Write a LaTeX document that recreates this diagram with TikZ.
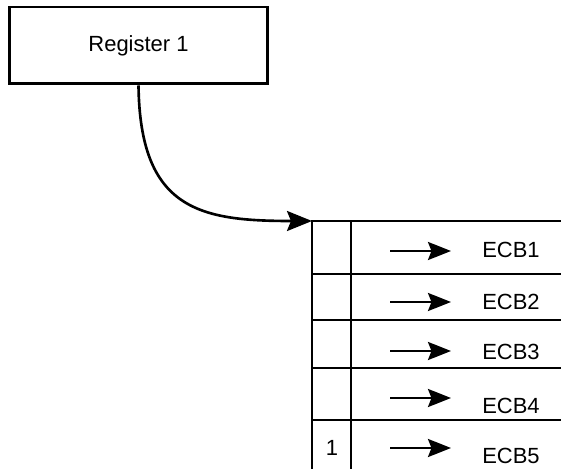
\documentclass[tikz,border=0pt]{standalone}
\usepackage{fontspec}
\setmainfont{Liberation Sans}
\usetikzlibrary{arrows.meta,positioning}

\begin{document}
\begin{tikzpicture}[x=0.02cm,y=-0.02cm,font=\fontsize{12.5}{15}\selectfont]
\useasboundingbox (0,0) rectangle (561,469);
\tikzset{ptr/.style={line width=1.5pt,-{Stealth[length=0.46cm,width=0.36cm,inset=0.07cm]}}}
\node[draw,line width=1.7pt,minimum width=5.18cm,minimum height=1.54cm] (reg) at (138.5,45.5) {Register 1};
\coordinate (T) at (312,221);
\coordinate (TR) at (561,221);
\coordinate (B) at (312,469);
\coordinate (C) at (351,221);
\coordinate (CB) at (351,469);
\draw [line width=1.5pt] (TR) -- (T) -- (B);
\draw [line width=1.5pt] (C) -- (CB);
\foreach \y in {274,320,368,420}
	\draw [line width=1.5pt] (312,\y) -- (561,\y);
\draw [ptr,-{Stealth[length=0.5cm,width=0.4cm,inset=0.08cm]}] (reg.south) .. controls (140,210) and (200,221) .. (T);
\foreach \ya/\yt/\n in {251/250/1,302/302/2,351/352/3,398/406/4,448/456/5}{
	\coordinate (a\n) at (390,\ya);
	\coordinate (b\n) at (451,\ya);
	\draw [ptr] (a\n) -- (b\n);
	\node (ecb\n) at (511,\yt) {ECB\n};
}
\node (one) at (332,448) {1};
\end{tikzpicture}
\end{document}
